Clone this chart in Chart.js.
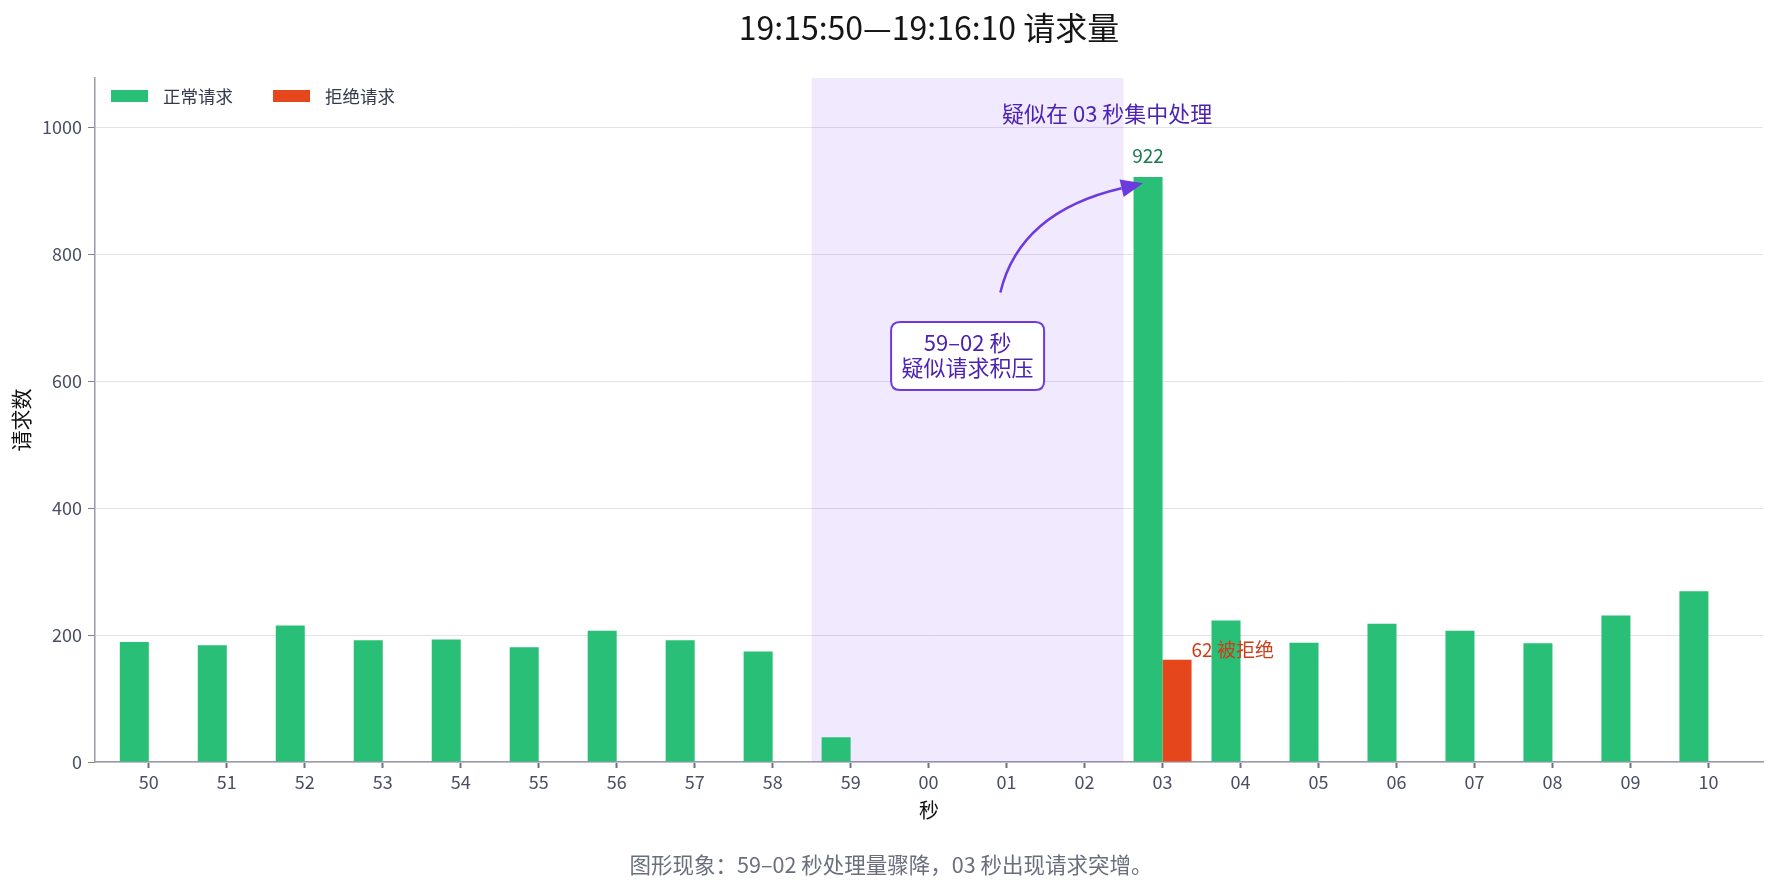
<!DOCTYPE html>
<html>
<head>
<meta charset="utf-8">
<script src="https://cdn.jsdelivr.net/npm/chart.js@4.4.1/dist/chart.umd.min.js"></script>
<style>
  html, body { margin: 0; padding: 0; background: #fff; }
</style>
</head>
<body>
<canvas id="myChart" width="1776" height="886"></canvas>
<script>
const seconds = ['50','51','52','53','54','55','56','57','58','59','00','01','02','03','04','05','06','07','08','09','10'];
const normalRequests = [189, 184, 215, 192, 193, 181, 207, 192, 174, 39, 0, 0, 0, 922, 223, 188, 218, 207, 187, 231, 269];
const rejectedRequests = [0, 0, 0, 0, 0, 0, 0, 0, 0, 0, 0, 0, 0, 161, 0, 0, 0, 0, 0, 0, 0];
const yTickStep = 200;
const yMax = 1078;

const FONT = '"Noto Sans CJK SC", "Noto Sans", sans-serif';
Chart.defaults.font.family = FONT;

const GREEN = '#29bf76';
const RED = '#e5461c';
const PURPLE = '#6d3ae0';
const PURPLE_TEXT = '#4c22b5';

function roundRect(ctx, x, y, w, h, r) {
  ctx.beginPath();
  ctx.moveTo(x + r, y);
  ctx.lineTo(x + w - r, y);
  ctx.quadraticCurveTo(x + w, y, x + w, y + r);
  ctx.lineTo(x + w, y + h - r);
  ctx.quadraticCurveTo(x + w, y + h, x + w - r, y + h);
  ctx.lineTo(x + r, y + h);
  ctx.quadraticCurveTo(x, y + h, x, y + h - r);
  ctx.lineTo(x, y + r);
  ctx.quadraticCurveTo(x, y, x + r, y);
  ctx.closePath();
}

const decor = {
  id: 'decor',
  beforeDatasetsDraw(chart) {
    const {ctx, chartArea, scales: {x}} = chart;
    // shaded 59-02 window
    const x0 = x.getPixelForValue(8.5), x1 = x.getPixelForValue(12.5);
    ctx.save();
    ctx.fillStyle = 'rgba(124,58,237,0.11)';
    ctx.fillRect(x0, chartArea.top, x1 - x0, chartArea.bottom - chartArea.top);
    ctx.restore();
  },
  afterDatasetsDraw(chart) {
    const {ctx, scales: {x, y}} = chart;
    ctx.save();

    // value label on the spike
    const spike = chart.getDatasetMeta(0).data[13];
    ctx.font = '19px ' + FONT;
    ctx.fillStyle = '#1b7a4f';
    ctx.textAlign = 'center';
    ctx.textBaseline = 'middle';
    ctx.fillText(String(normalRequests[13]), spike.x, spike.y - 21);

    // rejected label
    const rej = chart.getDatasetMeta(1).data[13];
    ctx.fillStyle = '#cf3c18';
    ctx.textAlign = 'left';
    ctx.fillText('62 被拒绝', rej.x + rej.width / 2, rej.y - 10);

    // curved arrow
    const sx = x.getPixelForValue(10.92), sy = y.getPixelForValue(740);
    const cx = x.getPixelForValue(11.17), cy = y.getPixelForValue(867);
    const tx = x.getPixelForValue(12.75), ty = y.getPixelForValue(912);
    const ang = Math.atan2(ty - cy, tx - cx);
    const headLen = 22, headW = 9;
    const bx = tx - headLen * Math.cos(ang), by = ty - headLen * Math.sin(ang);
    ctx.strokeStyle = PURPLE;
    ctx.lineWidth = 2.5;
    ctx.beginPath();
    ctx.moveTo(sx, sy);
    ctx.quadraticCurveTo(cx, cy, bx, by);
    ctx.stroke();
    ctx.fillStyle = PURPLE;
    ctx.beginPath();
    ctx.moveTo(tx, ty);
    ctx.lineTo(bx + headW * Math.sin(ang), by - headW * Math.cos(ang));
    ctx.lineTo(bx - headW * Math.sin(ang), by + headW * Math.cos(ang));
    ctx.closePath();
    ctx.fill();

    // note box
    const bcx = x.getPixelForValue(10.5), bcy = y.getPixelForValue(640);
    const bw = 153, bh = 68;
    roundRect(ctx, bcx - bw / 2, bcy - bh / 2, bw, bh, 9);
    ctx.fillStyle = '#fff';
    ctx.fill();
    ctx.lineWidth = 2;
    ctx.strokeStyle = PURPLE;
    ctx.stroke();
    ctx.fillStyle = PURPLE_TEXT;
    ctx.font = '22px ' + FONT;
    ctx.textAlign = 'center';
    ctx.fillText('59–02 秒', bcx, bcy - 13);
    ctx.fillText('疑似请求积压', bcx, bcy + 12);

    // text above the window
    ctx.font = '22px ' + FONT;
    ctx.fillText('疑似在 03 秒集中处理', x.getPixelForValue(12.29), y.getPixelForValue(1022));

    ctx.restore();
  },
  afterDraw(chart) {
    const {ctx, chartArea} = chart;
    ctx.save();
    ctx.textBaseline = 'middle';

    // title
    ctx.font = '32px ' + FONT;
    ctx.fillStyle = '#151515';
    ctx.textAlign = 'center';
    ctx.fillText('19:15:50—19:16:10 请求量', (chartArea.left + chartArea.right) / 2, 28);

    // legend inside plot
    ctx.font = '17.5px ' + FONT;
    ctx.textAlign = 'left';
    let lx = chartArea.left + 16;
    const ly = chartArea.top + 12;
    chart.data.datasets.forEach(ds => {
      ctx.fillStyle = ds.backgroundColor;
      ctx.fillRect(lx, ly, 37, 12);
      ctx.fillStyle = '#333a4d';
      ctx.fillText(ds.label, lx + 52, ly + 6);
      lx += 162;
    });

    // caption
    ctx.font = '21.5px ' + FONT;
    ctx.fillStyle = '#6b6f7d';
    ctx.textAlign = 'center';
    ctx.fillText('图形现象：59–02 秒处理量骤降，03 秒出现请求突增。', chart.width / 2 + 3, 865);

    ctx.restore();
  }
};

new Chart(document.getElementById('myChart'), {
  type: 'bar',
  data: {
    datasets: [
      {
        label: '正常请求',
        data: seconds.map((s, i) => ({x: i, y: normalRequests[i]})),
        backgroundColor: GREEN,
        categoryPercentage: 0.744,
        barPercentage: 1.0
      },
      {
        label: '拒绝请求',
        data: seconds.map((s, i) => ({x: i, y: rejectedRequests[i]})),
        backgroundColor: RED,
        categoryPercentage: 0.744,
        barPercentage: 1.0
      }
    ]
  },
  options: {
    responsive: false,
    devicePixelRatio: 1,
    animation: false,
    layout: { padding: { top: 78, right: 13, left: 0, bottom: 0 } },
    plugins: {
      legend: { display: false },
      tooltip: { enabled: false }
    },
    scales: {
      x: {
        type: 'linear',
        min: -0.69,
        max: 20.7,
        offset: false,
        grid: { offset: false, drawOnChartArea: false, drawTicks: true, tickLength: 6, tickColor: '#70707e', tickWidth: 2 },
        border: { color: '#9a9aa8', width: 1.5 },
        ticks: {
          stepSize: 1,
          includeBounds: false,
          autoSkip: false,
          maxRotation: 0,
          padding: 3,
          color: '#4a5064',
          font: { size: 18 },
          callback: v => seconds[v] ?? ''
        },
        title: { display: true, text: '秒', color: '#111', font: { size: 20 }, padding: { top: 0, bottom: 64 } },
        afterFit: s => { s.height = 124; }
      },
      y: {
        min: 0,
        max: yMax,
        grid: { color: '#e2e2ea', lineWidth: 1, tickLength: 7, tickColor: '#80808e' },
        border: { color: '#9a9aa8', width: 1.5 },
        ticks: {
          stepSize: yTickStep,
          includeBounds: false,
          padding: 6,
          color: '#4a5064',
          font: { size: 18 },
          callback: v => String(v)
        },
        title: { display: true, text: '请求数', color: '#111', font: { size: 21 }, padding: { top: 8, bottom: 0 } },
        afterFit: s => { s.width = 95; }
      }
    }
  },
  plugins: [decor]
});
</script>
</body>
</html>
